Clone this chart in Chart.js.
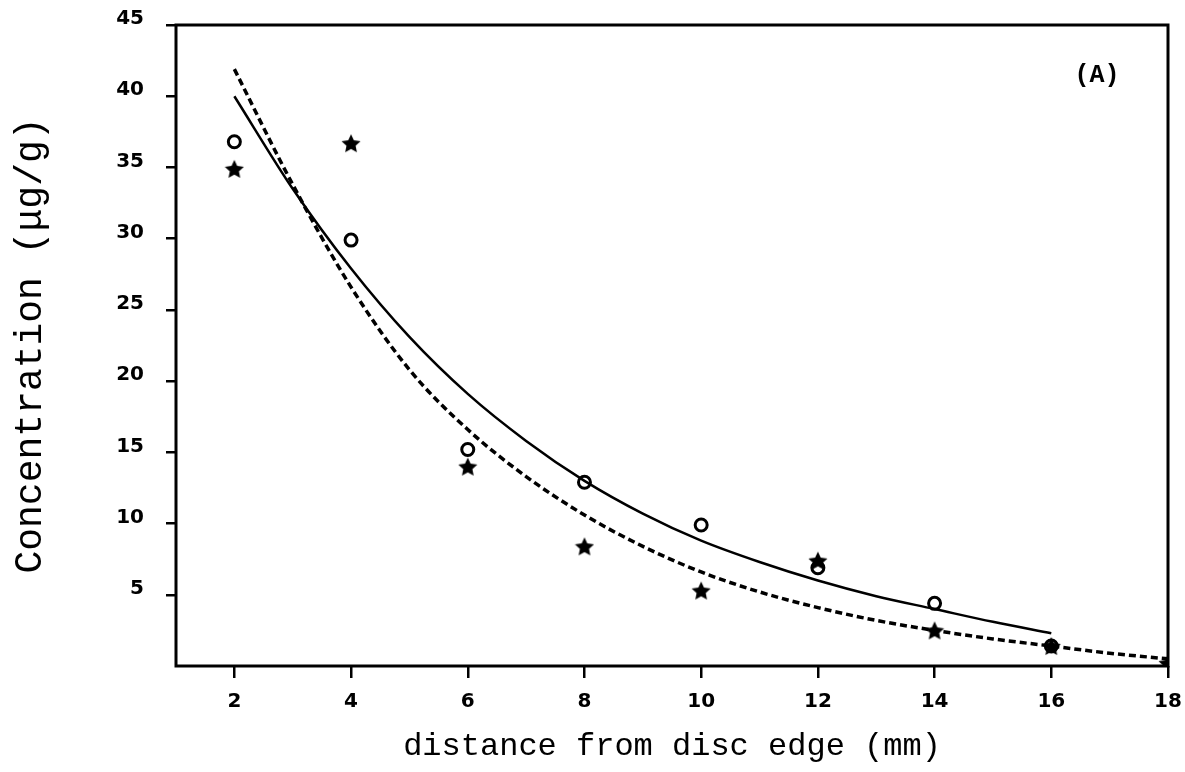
<!DOCTYPE html>
<html lang="en">
<head>
    <meta charset="UTF-8">
    <title>Concentration vs distance from disc edge</title>
    <script src="https://cdn.jsdelivr.net/npm/chart.js"></script>
    <style>
        body {
            margin: 0;
            background-color: #ffffff;
        }
        .chart-box {
            width: 1185px;
            height: 772px;
        }
    </style>
</head>
<body>
    <div class="chart-box">
        <canvas id="concChart"></canvas>
    </div>

    <script>
        // measured points (open circles)
        const circleX = [2, 4, 6, 8, 10, 12, 14, 16];
        const circleY = [36.8, 29.9, 15.2, 12.9, 9.9, 6.9, 4.4, 1.4];

        // measured points (stars)
        const starX = [2, 4, 6, 8, 10, 12, 14, 16, 18];
        const starY = [34.9, 36.7, 14.0, 8.4, 5.3, 7.4, 2.5, 1.4, 0.2];

        // fitted curves
        const solidX = [2, 3, 4, 5, 6, 7, 8, 9, 10, 11, 12, 13, 14, 15, 16];
        const solidY = [40.0, 33.5, 27.9, 23.1, 19.1, 15.8, 13.0, 10.7, 8.8, 7.3, 6.0, 4.9, 4.0, 3.1, 2.3];
        const dashedX = [2, 3, 4, 5, 6, 7, 8, 9, 10, 11, 12, 13, 14, 15, 16, 17, 18];
        const dashedY = [41.9, 33.8, 26.6, 20.8, 16.6, 13.3, 10.6, 8.4, 6.6, 5.2, 4.1, 3.2, 2.5, 1.9, 1.4, 0.9, 0.5];

        // axis ticks
        const xTicks = [2, 4, 6, 8, 10, 12, 14, 16, 18];
        const yTicks = [5, 10, 15, 20, 25, 30, 35, 40, 45];

        const toPoints = (xs, ys) => xs.map((x, i) => ({ x: x, y: ys[i] }));

        // filled five point star used as marker
        function makeStar(size) {
            const c = document.createElement('canvas');
            c.width = size;
            c.height = size;
            const g = c.getContext('2d');
            g.beginPath();
            for (let i = 0; i < 10; i++) {
                const r = i % 2 === 0 ? size / 2 : size * 0.24;
                const a = -Math.PI / 2 + i * Math.PI / 5;
                const px = size / 2 + r * Math.cos(a);
                const py = size / 2 + 1 + r * Math.sin(a);
                if (i === 0) g.moveTo(px, py); else g.lineTo(px, py);
            }
            g.closePath();
            g.fillStyle = '#000';
            g.fill();
            return c;
        }

        // frame round the plot and the panel letter
        const framePlugin = {
            id: 'frame',
            afterDraw(chart) {
                const { ctx, chartArea } = chart;
                ctx.save();
                ctx.strokeStyle = '#000';
                ctx.lineWidth = 3;
                ctx.strokeRect(chartArea.left, chartArea.top, chartArea.right - chartArea.left, chartArea.bottom - chartArea.top);
                ctx.fillStyle = '#000';
                ctx.font = 'bold 25px "Liberation Mono"';
                ctx.textAlign = 'center';
                ctx.textBaseline = 'middle';
                ctx.fillText('(A)', 1097, 76);
                ctx.restore();
            }
        };

        const tickFont = { family: 'DejaVu Sans', size: 20, weight: 'bold' };

        new Chart(document.getElementById('concChart'), {
            type: 'scatter',
            data: {
                datasets: [{
                    type: 'line',
                    data: toPoints(solidX, solidY),
                    borderColor: '#000',
                    borderWidth: 2.5,
                    pointRadius: 0,
                    cubicInterpolationMode: 'monotone'
                }, {
                    type: 'line',
                    data: toPoints(dashedX, dashedY),
                    borderColor: '#000',
                    borderWidth: 3.5,
                    borderDash: [7, 4],
                    pointRadius: 0,
                    cubicInterpolationMode: 'monotone'
                }, {
                    data: toPoints(circleX, circleY),
                    pointStyle: 'circle',
                    pointRadius: 6,
                    borderColor: '#000',
                    borderWidth: 3,
                    backgroundColor: 'rgba(0,0,0,0)'
                }, {
                    data: toPoints(starX, starY),
                    pointStyle: makeStar(20)
                }]
            },
            options: {
                responsive: true,
                maintainAspectRatio: false,
                animation: false,
                layout: {
                    padding: { left: 0, top: 25, right: 17, bottom: 0 }
                },
                plugins: {
                    legend: { display: false },
                    tooltip: { enabled: false }
                },
                scales: {
                    x: {
                        type: 'linear',
                        min: 1,
                        max: 18,
                        afterBuildTicks: scale => {
                            scale.ticks = xTicks.map(v => ({ value: v }));
                        },
                        afterFit: scale => {
                            scale.height = 106;
                            scale.paddingLeft = 0;
                            scale.paddingRight = 0;
                        },
                        border: { display: false },
                        grid: {
                            drawOnChartArea: false,
                            color: '#000',
                            lineWidth: 2.5,
                            tickLength: 12
                        },
                        ticks: {
                            color: '#000',
                            font: tickFont,
                            padding: 12,
                            maxRotation: 0
                        },
                        title: {
                            display: true,
                            text: 'distance from disc edge (mm)',
                            color: '#000',
                            font: { family: 'Liberation Mono', size: 32 },
                            padding: { top: 0, bottom: 6 }
                        }
                    },
                    y: {
                        min: 0,
                        max: 45,
                        afterBuildTicks: scale => {
                            scale.ticks = yTicks.map(v => ({ value: v }));
                        },
                        afterFit: scale => {
                            scale.width = 176;
                            scale.paddingTop = 0;
                            scale.paddingBottom = 0;
                        },
                        border: { display: false },
                        grid: {
                            drawOnChartArea: false,
                            color: '#000',
                            lineWidth: 2.5,
                            tickLength: 10
                        },
                        ticks: {
                            color: '#000',
                            font: tickFont,
                            padding: 22,
                            labelOffset: -6
                        },
                        title: {
                            display: true,
                            text: 'Concentration (μg/g)',
                            color: '#000',
                            font: { family: 'Liberation Mono', size: 38 },
                            padding: { top: 8, bottom: 0 }
                        }
                    }
                }
            },
            plugins: [framePlugin]
        });
    </script>
</body>
</html>
